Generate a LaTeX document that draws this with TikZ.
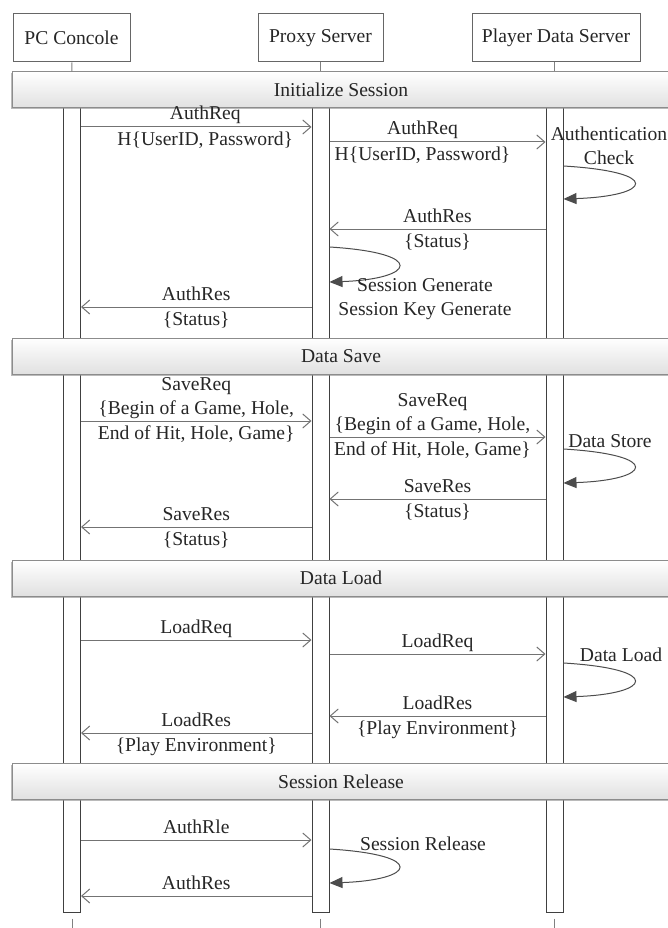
\documentclass[tikz,border=0pt]{standalone}
\usepackage{fontspec}
\setmainfont{Liberation Serif}
\usetikzlibrary{arrows.meta,shadows}

\begin{document}
\begin{tikzpicture}[x=1pt, y=-1pt, line width=1pt,
		every node/.append style={font=\fontsize{19.6}{23.5}\selectfont, text=black!85},
		lifebar/.style={draw=black!75, fill=white, minimum width=17pt, minimum height=812pt, inner sep=0pt},
		phasebar/.style={draw=black!45, top color=white, bottom color=black!12, minimum width=658pt, minimum height=36pt, inner sep=0pt,
			drop shadow={shadow xshift=-1.5pt, shadow yshift=-1.5pt, fill=black!45, opacity=0.6}},
		msg/.style={draw=black!55, -{Straight Barb[length=8pt,width=14pt]}},
		loopback/.style={draw=black!70, -{Triangle[length=13pt,width=11pt]}},
		lblup/.style={anchor=south, inner sep=2.5pt, text depth=4pt, align=center},
		lbldn/.style={anchor=north, inner sep=2.5pt, text height=15.5pt, align=center},
		tick/.style={draw=black!50}]
		\useasboundingbox (0,0) rectangle (668,928);
		\begin{scope}[every node/.append style={draw=black!60, minimum height=48pt, inner sep=0pt}]
			\node[minimum width=117pt] (pc) at (71.5,38) {PC Concole};
			\node[minimum width=125pt] (proxy) at (320.5,38) {Proxy Server};
			\node[minimum width=168pt] (data) at (556,38) {Player Data Server};
		\end{scope}
		\node[lifebar] (pcbar) at (72,506) {};
		\node[lifebar] (proxybar) at (320.5,506) {};
		\node[lifebar] (databar) at (554.5,506) {};
		\node[phasebar] (init) at (341,90) {Initialize Session};
		\node[phasebar] (save) at (341,356) {Data Save};
		\node[phasebar] (load) at (341,578) {Data Load};
		\node[phasebar] (release) at (341,781.5) {Session Release};
		\draw[tick] (pc) -- (init.north -| pcbar);
		\draw[tick] (proxy) -- (init.north -| proxybar);
		\draw[tick] (data.south -| databar) -- (init.north -| databar);
		\foreach \b in {pcbar,proxybar,databar}
			\draw[tick] ([yshift=-6pt]\b.south) -- ++(0,10);
		\foreach \n/\y in {r1/127,r2/142,r3/166,r4/199,r5/229,r6/247,r7/282,r8/307,
			r9/421,r10/437,r11/449,r12/483,r13/499,r14/527,
			r15/640,r16/654,r17/663,r18/697,r19/716,r20/733,
			r21/840,r22/849,r23/883,r24/896}
			\coordinate (\n) at (0,\y);
		% initialize session
		\draw[msg] (pcbar.east |- r1) -- node[lblup, xshift=9pt] {AuthReq} node[lbldn, xshift=9pt] {H\{UserID, Password\}} (proxybar.west |- r1);
		\draw[msg] (proxybar.east |- r2) -- node[lblup, xshift=-15pt] {AuthReq} node[lbldn, xshift=-15pt] {H\{UserID, Password\}} (databar.west |- r2);
		\node[align=center] (authchk) at (609,146) {Authentication\\Check};
		\draw[loopback] (databar.east |- r3) .. controls +(100,6) and +(88,-3) .. (databar.east |- r4);
		\draw[msg] (databar.west |- r5) -- node[lblup] {AuthRes} node[lbldn] {\{Status\}} (proxybar.east |- r5);
		\draw[loopback] (proxybar.east |- r6) .. controls +(98,6) and +(86,-3) .. (proxybar.east |- r7);
		\node[align=center] (sesgen) at (425,299) {Session Generate\\Session Key Generate};
		\draw[msg] (proxybar.west |- r8) -- node[lblup] {AuthRes} node[lbldn] {\{Status\}} (pcbar.east |- r8);
		% data save
		\draw[msg] (pcbar.east |- r9) -- node[lblup] {SaveReq\\\{Begin of a Game, Hole,} node[lbldn] {End of Hit, Hole, Game\}} (proxybar.west |- r9);
		\draw[msg] (proxybar.east |- r10) -- node[lblup, xshift=-5pt] {SaveReq\\\{Begin of a Game, Hole,} node[lbldn, xshift=-5pt] {End of Hit, Hole, Game\}} (databar.west |- r10);
		\node (store) at (610,441) {Data Store};
		\draw[loopback] (databar.east |- r11) .. controls +(100,6) and +(88,-3) .. (databar.east |- r12);
		\draw[msg] (databar.west |- r13) -- node[lblup] {SaveRes} node[lbldn] {\{Status\}} (proxybar.east |- r13);
		\draw[msg] (proxybar.west |- r14) -- node[lblup] {SaveRes} node[lbldn] {\{Status\}} (pcbar.east |- r14);
		% data load
		\draw[msg] (pcbar.east |- r15) -- node[lblup] {LoadReq} (proxybar.west |- r15);
		\draw[msg] (proxybar.east |- r16) -- node[lblup] {LoadReq} (databar.west |- r16);
		\node (dload) at (621,655) {Data Load};
		\draw[loopback] (databar.east |- r17) .. controls +(100,6) and +(88,-3) .. (databar.east |- r18);
		\draw[msg] (databar.west |- r19) -- node[lblup] {LoadRes} node[lbldn] {\{Play Environment\}} (proxybar.east |- r19);
		\draw[msg] (proxybar.west |- r20) -- node[lblup] {LoadRes} node[lbldn] {\{Play Environment\}} (pcbar.east |- r20);
		% session release
		\draw[msg] (pcbar.east |- r21) -- node[lblup] {AuthRle} (proxybar.west |- r21);
		\node (srel) at (423,844) {Session Release};
		\draw[loopback] (proxybar.east |- r22) .. controls +(98,6) and +(86,-3) .. (proxybar.east |- r23);
		\draw[msg] (proxybar.west |- r24) -- node[lblup] {AuthRes} (pcbar.east |- r24);
	\end{tikzpicture}
\end{document}
